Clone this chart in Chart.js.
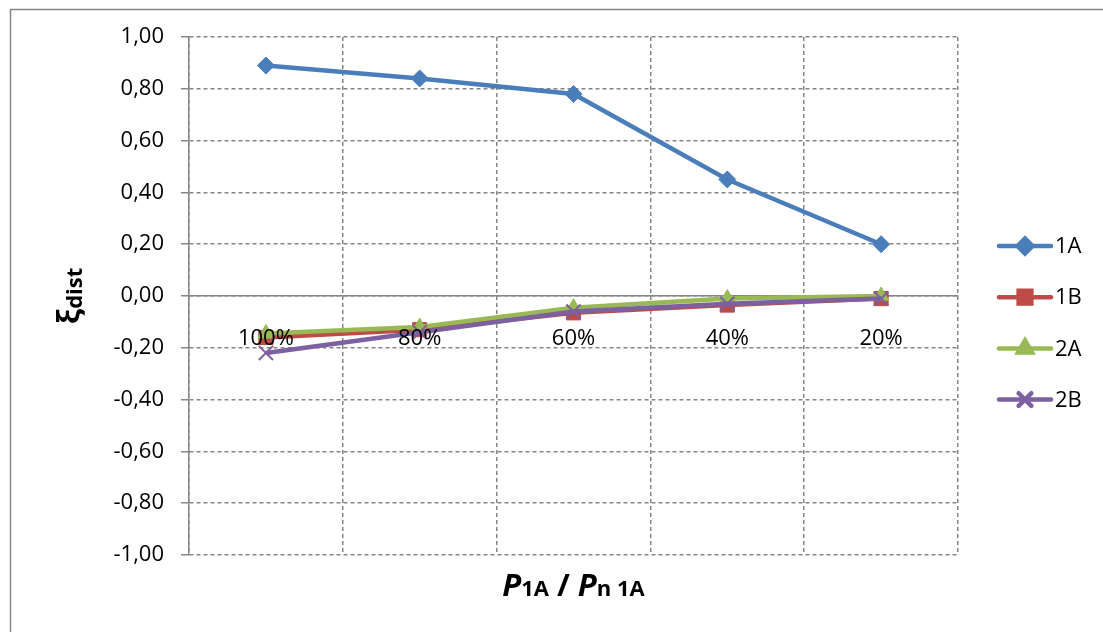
<!DOCTYPE html>
<html>
<head>
<meta charset="utf-8">
<script src="https://cdn.jsdelivr.net/npm/chart.js@4/dist/chart.umd.min.js"></script>
<style>
  html, body { margin: 0; padding: 0; background: #fff; }
  #wrap { width: 1103px; height: 632px; position: relative; }
</style>
</head>
<body>
<div id="wrap"><canvas id="chart" width="1103" height="632"></canvas></div>
<script>
// --- DATA ---
const categories = ['100%', '80%', '60%', '40%', '20%'];
const s1A = [0.89, 0.84, 0.78, 0.45, 0.20];
const s1B = [-0.16, -0.13, -0.065, -0.035, -0.01];
const s2A = [-0.145, -0.12, -0.045, -0.01, 0.00];
const s2B = [-0.22, -0.14, -0.06, -0.03, -0.01];
const yTicks = { min: -1, max: 1, step: 0.2 };

const FONT = "'Open Sans', 'Liberation Sans', sans-serif";
const GRID = '#868686';

const series = [
  { label: '1A', data: s1A, color: '#4A7EBB', style: 'rectRot', radius: 8.5, order: 3 },
  { label: '1B', data: s1B, color: '#BE4B48', style: 'rect', radius: 10, order: 2 },
  { label: '2A', data: s2A, color: '#98B954', style: 'triangle', radius: 9, order: 1 },
  { label: '2B', data: s2B, color: '#7D60A0', style: 'crossRot', radius: 10, order: 0 }
];

// --- PLUGINS: frame, titles, legend ---
const extras = {
  id: 'extras',
  beforeDraw(chart) {
    const c = chart.ctx;
    c.save();
    c.strokeStyle = '#868686';
    c.lineWidth = 1.5;
    c.strokeRect(10.5, 9.5, 1200, 700);
    c.restore();
  },
  afterDraw(chart) {
    const c = chart.ctx;
    const a = chart.chartArea;
    c.save();
    c.fillStyle = '#000';
    c.textBaseline = 'alphabetic';

    // x title: P1A / Pn 1A
    const parts = [
      { t: 'P', f: 'italic bold 31px ' + FONT },
      { t: '1A', f: 'bold 22px ' + FONT },
      { t: ' / ', f: 'bold 31px ' + FONT },
      { t: 'P', f: 'italic bold 31px ' + FONT },
      { t: 'n 1A', f: 'bold 22px ' + FONT }
    ];
    let w = 0;
    parts.forEach(p => { c.font = p.f; p.w = c.measureText(p.t).width; w += p.w; });
    let x = (a.left + a.right) / 2 - w / 2;
    c.textAlign = 'left';
    parts.forEach(p => { c.font = p.f; c.fillText(p.t, x, 596); x += p.w; });

    // y title: ξdist rotated
    c.translate(79, (a.top + a.bottom) / 2);
    c.rotate(-Math.PI / 2);
    c.font = 'bold 31px ' + FONT;
    const w1 = c.measureText('ξ').width;
    c.font = 'bold 22px ' + FONT;
    const w2 = c.measureText('dist').width;
    const yx = -(w1 + w2) / 2;
    c.font = 'bold 31px ' + FONT;
    c.fillText('ξ', yx, 0);
    c.font = 'bold 22px ' + FONT;
    c.fillText('dist', yx + w1, 3);
    c.restore();

    // legend
    c.save();
    const lx0 = 999, lx1 = 1051;
    series.forEach((s, i) => {
      const ly = 246 + i * 51.2;
      c.strokeStyle = s.color;
      c.lineWidth = 4.5;
      c.lineCap = 'round';
      c.beginPath(); c.moveTo(lx0, ly); c.lineTo(lx1, ly); c.stroke();
      c.fillStyle = s.color;
      Chart.helpers.drawPoint(c, {
        pointStyle: s.style, radius: s.radius - 1, borderWidth: s.style === 'crossRot' ? 2 : 1,
        rotation: 0
      }, (lx0 + lx1) / 2, ly);
      c.fillStyle = '#000';
      c.font = '22px ' + FONT;
      c.textAlign = 'left';
      c.textBaseline = 'middle';
      c.fillText(s.label, 1055, ly + 1);
    });
    c.restore();
  }
};

// --- CHART ---
const ctx = document.getElementById('chart').getContext('2d');
new Chart(ctx, {
  type: 'line',
  data: {
    labels: categories,
    datasets: series.map(s => ({
      label: s.label,
      data: s.data,
      order: s.order,
      borderColor: s.color,
      backgroundColor: s.color,
      pointBackgroundColor: s.color,
      pointBorderColor: s.color,
      pointStyle: s.style,
      pointRadius: s.radius,
      pointBorderWidth: s.style === 'crossRot' ? 2 : 1,
      borderWidth: 4.5,
      tension: 0,
      fill: false
    }))
  },
  options: {
    responsive: false,
    animation: false,
    layout: { padding: { left: 0, right: 145, top: 37, bottom: 77 } },
    plugins: { legend: { display: false }, tooltip: { enabled: false } },
    scales: {
      x: {
        type: 'category',
        offset: true,
        position: { y: 0 },
        grid: { offset: true, color: GRID, lineWidth: 1.5, drawTicks: false },
        border: { display: true, color: GRID, width: 1.5, dash: [4, 3] },
        ticks: { color: '#000', font: { family: FONT, size: 22 }, padding: 30, maxRotation: 0, z: 1 }
      },
      y: {
        min: yTicks.min,
        max: yTicks.max,
        afterFit: s => { s.width = 189; },
        grid: { color: GRID, lineWidth: 1.5, tickLength: 8, tickColor: GRID },
        border: { display: true, color: GRID, width: 1.5, dash: [4, 3] },
        ticks: {
          stepSize: yTicks.step,
          color: '#000',
          padding: 17,
          font: { family: FONT, size: 22 },
          callback: v => (Math.abs(v) < 1e-9 ? 0 : v).toFixed(2).replace('.', ',')
        }
      }
    }
  },
  plugins: [extras]
});
</script>
</body>
</html>
